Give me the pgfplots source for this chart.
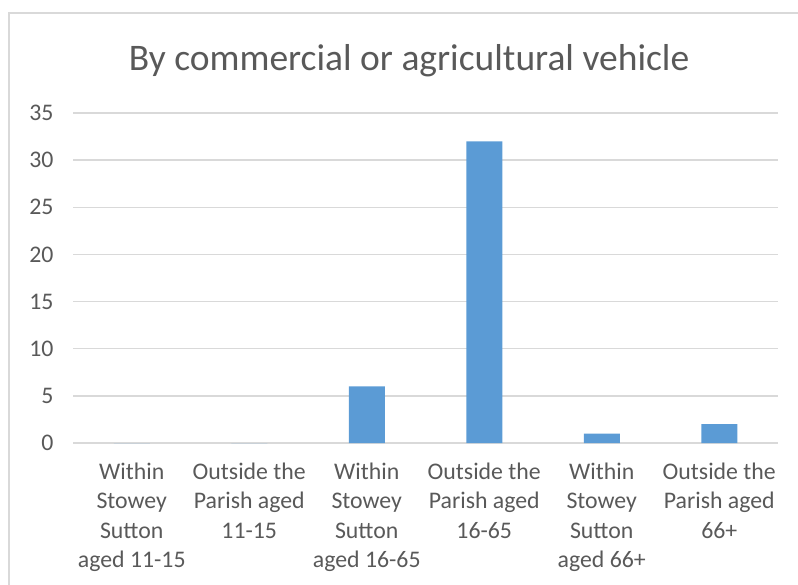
\documentclass[border=0pt]{standalone}
\usepackage{fontspec}
\setmainfont{Carlito}
\usepackage{pgfplots}
\pgfplotsset{compat=1.18}
\definecolor{barblue}{HTML}{5B9BD5}
\definecolor{txtgray}{HTML}{595959}
\definecolor{gridgray}{HTML}{D9D9D9}

\begin{document}
\begin{tikzpicture}
\useasboundingbox (0pt,0pt) rectangle (798pt,-584pt);
\draw[gridgray, line width=2pt] (9pt,-600pt) -- (9pt,-13pt) -- (820pt,-13pt);
\node[text=txtgray, font=\fontsize{37.5}{44}\selectfont] at (409pt,-61pt) {By commercial or agricultural vehicle};
  \begin{axis}[
    at={(73pt,-443pt)}, anchor=south west,
    scale only axis,
    width=705pt, height=330pt,
    ybar, bar width=36pt,
    xmin=-0.5, xmax=5.5,
    ymin=0, ymax=35,
    ytick={0,5,...,35},
    xtick=data,
    xticklabels={{Within\\Stowey\\Sutton\\aged 11-15},{Outside the\\Parish aged\\11-15},
      {Within\\Stowey\\Sutton\\aged 16-65},{Outside the\\Parish aged\\16-65},
      {Within\\Stowey\\Sutton\\aged 66+},{Outside the\\Parish aged\\66+}},
    axis line style={draw=none},
    tick style={draw=none},
    ymajorgrids,
    grid style={gridgray, line width=1.5pt},
    every tick label/.append style={text=txtgray, font=\fontsize{23.8}{29.5}\selectfont},
    /pgf/number format/assume math mode=true,
    yticklabel style={xshift=-16pt},
    xticklabel style={align=center, yshift=-12pt},
  ]
    \addplot[fill=barblue, draw=none] coordinates {(0,0) (1,0) (2,6) (3,32) (4,1) (5,2)};
  \end{axis}
\end{tikzpicture}
\end{document}
